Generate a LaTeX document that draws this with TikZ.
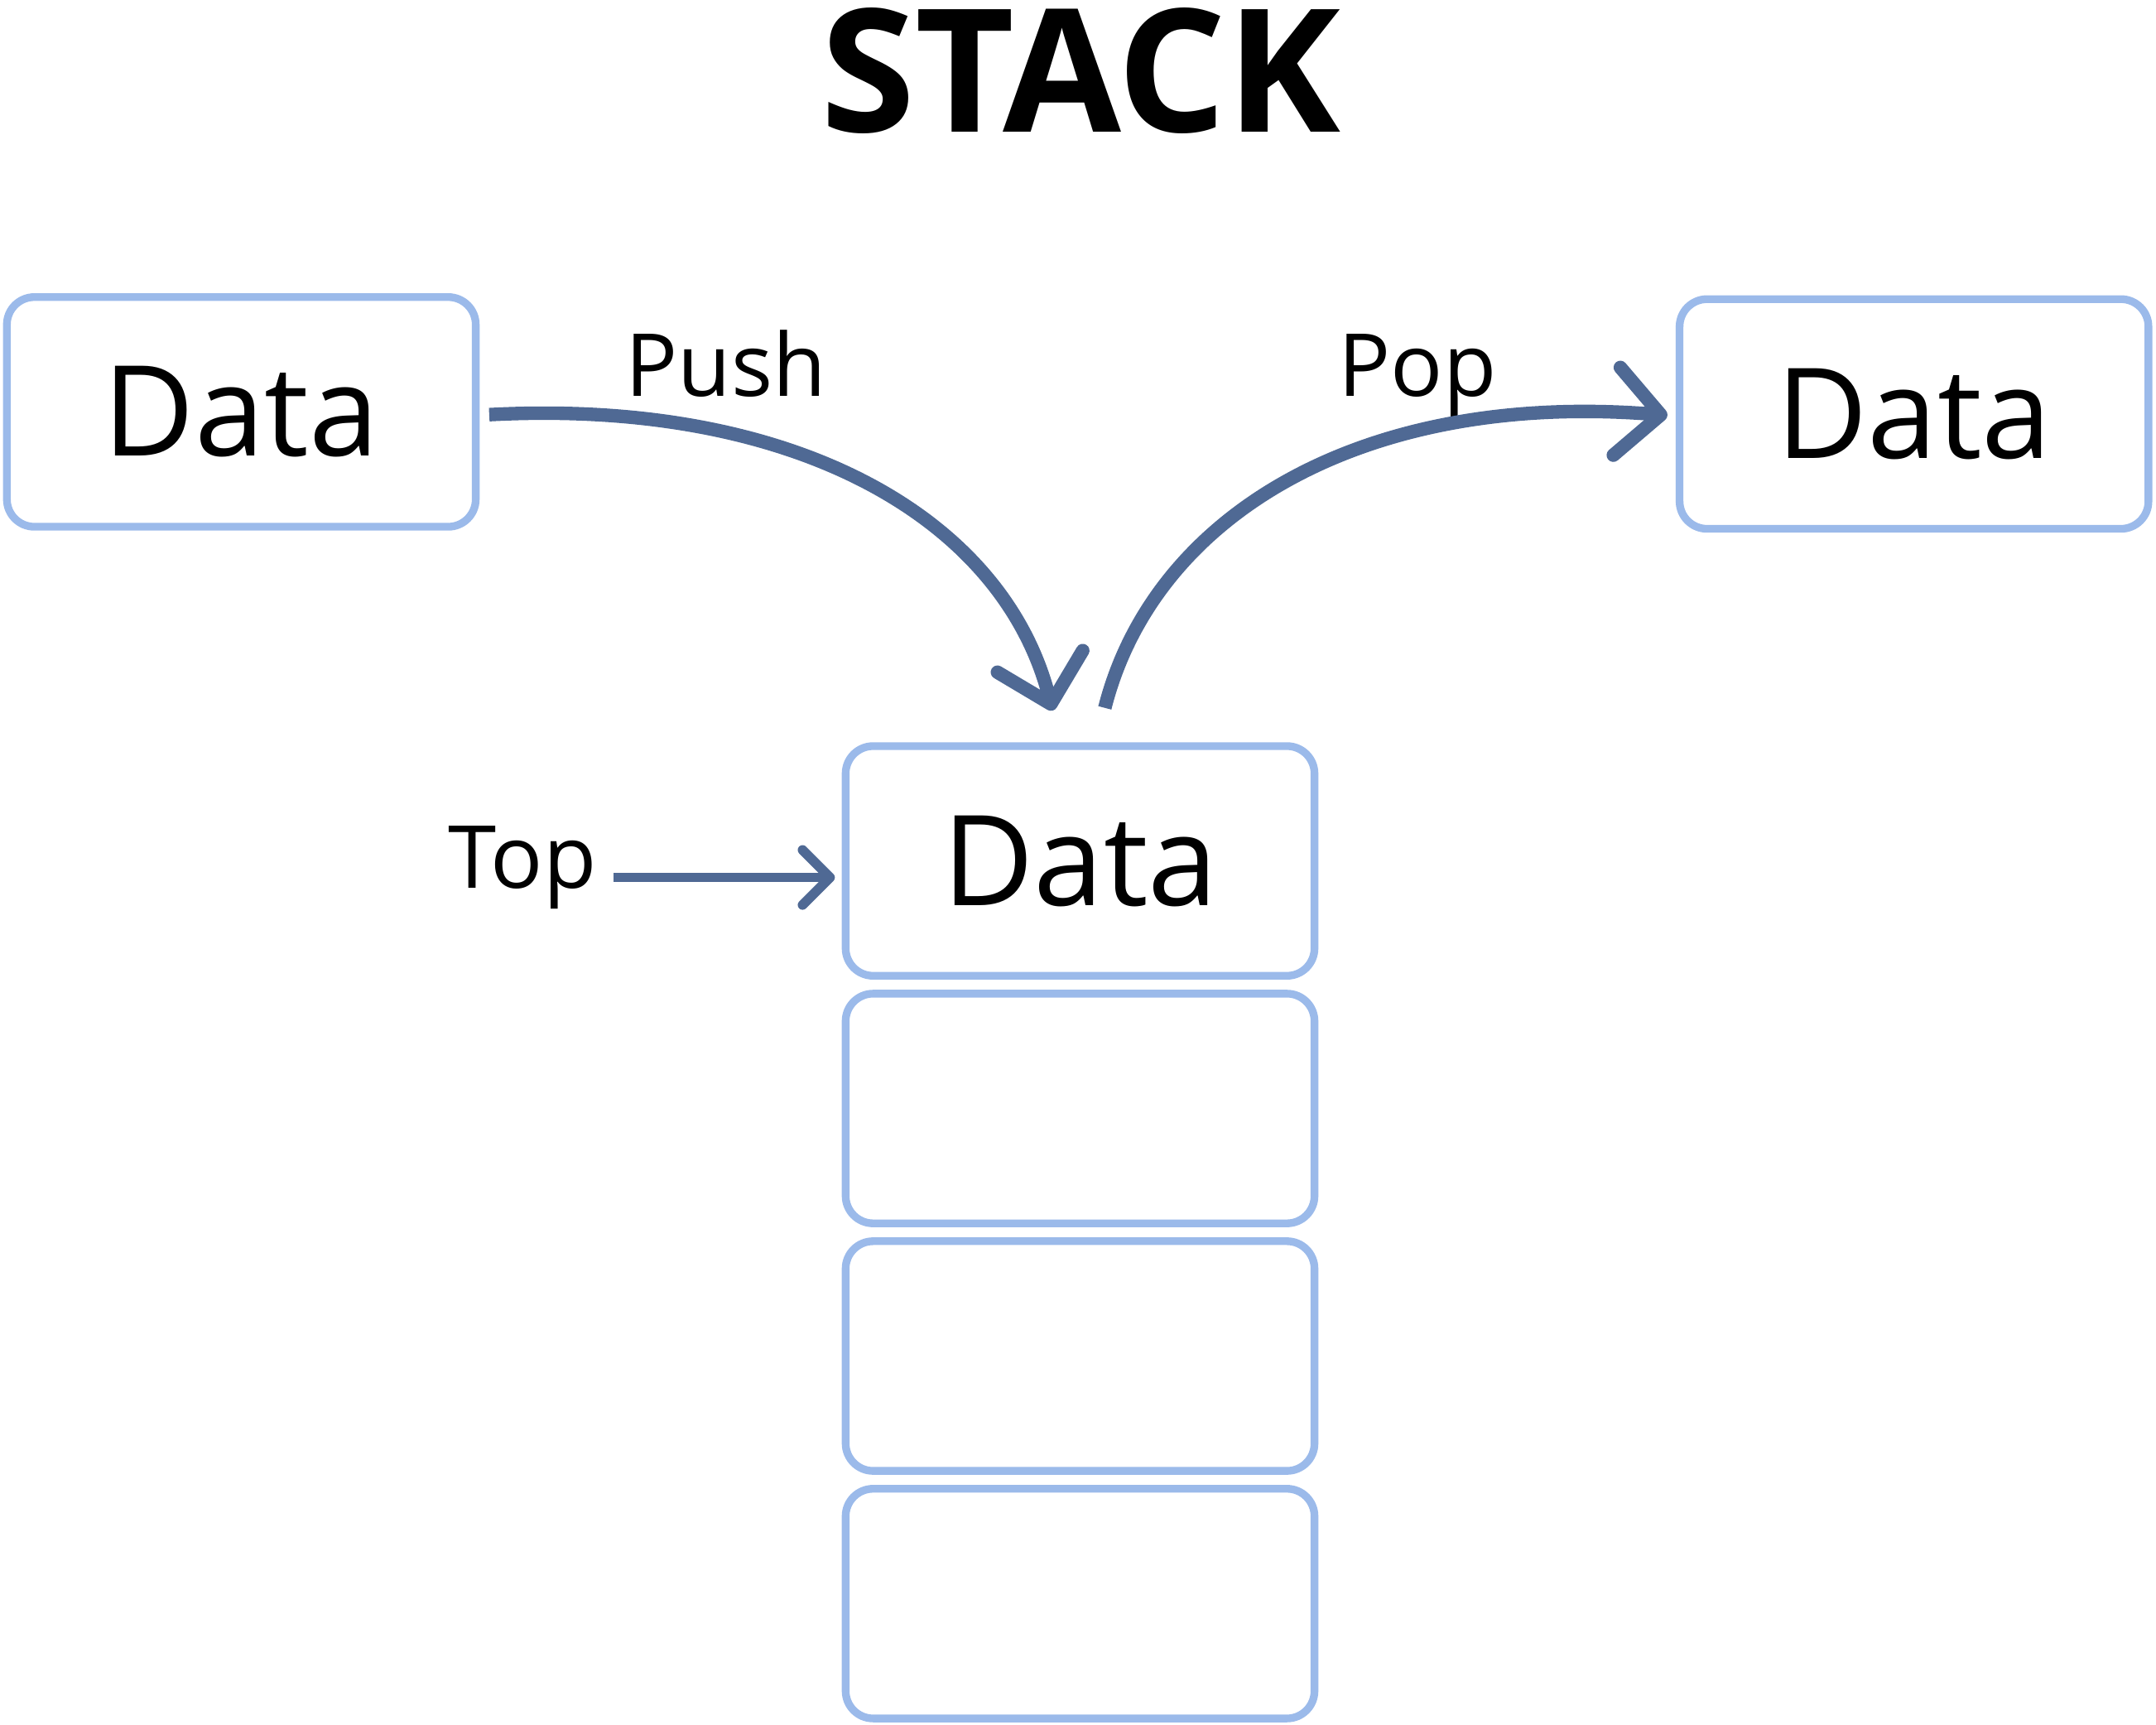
\documentclass[tikz,border=0pt]{standalone}
\usepackage{fontspec}
\setmainfont{Open Sans}
\newfontfamily\titlefont{Open Sans}
\usepackage{tikz}
\usetikzlibrary{arrows.meta}
\definecolor{boxblue}{RGB}{155,186,234}
\definecolor{arrowblue}{RGB}{79,105,148}

\begin{document}
\begin{tikzpicture}[x=0.1mm,y=-0.1mm,
        databox/.style={draw=boxblue,line width=1.6pt,rounded corners=2mm,minimum width=3.41cm,minimum height=1.67cm,font=\fontsize{26}{30}\selectfont},
        opname/.style={font=\fontsize{18}{21}\selectfont,anchor=base},
        flow/.style={color=arrowblue,line width=2.8pt,-{Straight Barb[length=3.2mm,width=6.4mm,round]}},
        pointer/.style={color=arrowblue,line width=1.8pt,-{Straight Barb[length=2mm,width=4mm,line width=2pt,round]}}]
        \useasboundingbox (0,0) rectangle (1568,1254);
        \node[font=\titlefont\bfseries\fontsize{35.5}{40}\selectfont,anchor=base] (title) at (786,96) {STACK};
        \node[databox] (leftdata) at (175.5,299.5) {Data};
        \node[databox] (rightdata) at (1392,301) {Data};
        \node[databox] (slot1) at (785.5,626) {Data};
        \node[databox] (slot2) at (785.5,806) {};
        \node[databox] (slot3) at (785.5,986) {};
        \node[databox] (slot4) at (785.5,1166) {};
        \node[opname] (push) at (528,288) {Push};
        \node[opname] (pop) at (1031,288) {Pop};
        \node[opname] (toplabel) at (380,646) {Top};
        \draw [flow] ([shift={(7,2)}]leftdata.east) .. controls +(225,-12) and +(-35,-138) .. ([shift={(-20,-23)}]slot1.north);
        \draw [flow] ([shift={(18,-25)}]slot1.north) .. controls +(35,-138) and +(-225,-18) .. ([shift={(-6,1)}]rightdata.west);
        \path ([shift={(-5,12)}]slot1.west) coordinate (topin);
        \draw [pointer] (toplabel.east |- topin) -- (topin);
    \end{tikzpicture}
\end{document}
